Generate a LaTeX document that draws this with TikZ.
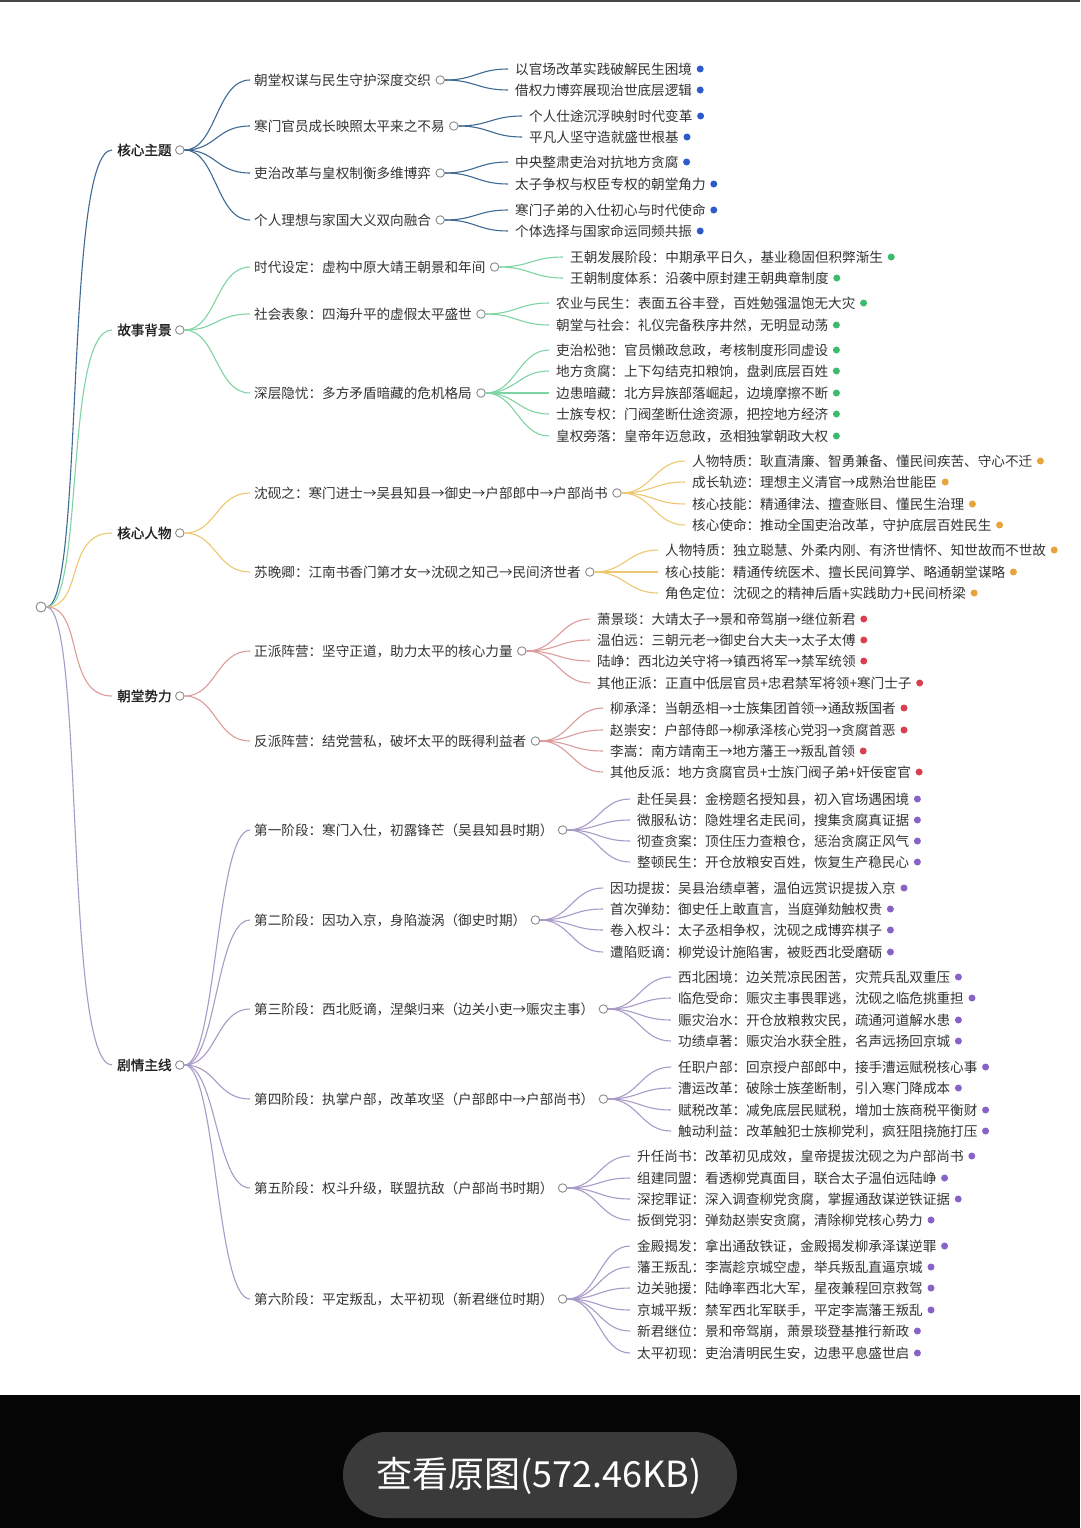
\documentclass[tikz,border=0pt]{standalone}
\usepackage{fontspec}
\setmainfont{Noto Sans CJK SC}
\newfontfamily\cjkbold{Noto Sans CJK SC}[FakeBold=1.3]
\usetikzlibrary{calc}
\definecolor{txt}{HTML}{333333}
\definecolor{txtb}{HTML}{222222}
\definecolor{hubc}{HTML}{8A8A8A}
\definecolor{blL}{HTML}{3F6A93}
\definecolor{blD}{HTML}{2C5CCB}
\definecolor{grL}{HTML}{7FD4A4}
\definecolor{grD}{HTML}{3DBB6D}
\definecolor{yeL}{HTML}{EDC870}
\definecolor{yeD}{HTML}{EAA23A}
\definecolor{rdL}{HTML}{DC9C9C}
\definecolor{rdD}{HTML}{D8404F}
\definecolor{puL}{HTML}{A99BC8}
\definecolor{puD}{HTML}{8763C8}
\definecolor{barbg}{HTML}{050505}
\definecolor{pillbg}{HTML}{3A3A3A}
\tikzset{
  lone/.style={anchor=west,inner sep=0pt,text=txtb,font=\cjkbold\fontsize{13.6}{16}\selectfont},
  ltwo/.style={anchor=west,inner sep=0pt,text=txt,font=\fontsize{13.6}{16}\selectfont},
  lthree/.style={anchor=west,inner sep=0pt,text=txt,font=\fontsize{13.6}{16}\selectfont},
  hub/.style={circle,draw=hubc,fill=white,line width=0.9pt,minimum size=8.5pt,inner sep=0pt},
  dotmark/.style={circle,minimum size=7pt,inner sep=0pt,draw=none},
  link/.style={line width=1.1pt}
}
\newcommand{\mmtop}[4]{%
  \node[lone] (#1) at (117,#2) {#3};
  \node[hub] (#1h) at ([xshift=8pt]#1.east) {};
  \draw[link,#4] (root.east) .. controls +(38,0) and +(-48,0) .. ([xshift=-5pt]#1.west);
}
\newcommand{\mmmid}[5]{%
  \node[ltwo] (#1) at (254,#2) {#3};
  \node[hub] (#1h) at ([xshift=9pt]#1.east) {};
  \draw[link,#4] (#5h.east) .. controls +(32,0) and +(-34,0) .. ([xshift=-4pt]#1.west);
}
\newcommand{\mmleaf}[7]{%
  \node[lthree] (#1) at (#2,#3) {#4};
  \node[dotmark,fill=#6] (#1d) at ([xshift=8pt]#1.east) {};
  \draw[link,#5] (#7h.east) .. controls +(30,0) and +(-30,0) .. ([xshift=-7pt]#1.west);
}
\begin{document}
\begin{tikzpicture}[x=1pt,y=-1pt]
\useasboundingbox (0,0) rectangle (1080,1528);
\fill[white] (0,0) rectangle (1080,1528);
\fill[gray!55!black] (0,0) rectangle (1080,2);
% bottom bar
\fill[barbg] (0,1395) rectangle (1080,1528);
\fill[pillbg,rounded corners=43pt] (343,1432) rectangle (737,1518);
\node[text=white,font=\fontsize{36}{42}\selectfont,inner sep=0pt] (viewbtn) at (539,1476) {查看原图(572.46KB)};
% root
\node[hub,minimum size=10pt] (root) at (41,607) {};
% level 1
\mmtop{k1}{150}{核心主题}{blL}
\mmtop{k2}{330}{故事背景}{grL}
\mmtop{k3}{533}{核心人物}{yeL}
\mmtop{k4}{696}{朝堂势力}{rdL}
\mmtop{k5}{1065}{剧情主线}{puL}
% ---- 核心主题
\mmmid{a1}{80}{朝堂权谋与民生守护深度交织}{blL}{k1}
\mmmid{a2}{126}{寒门官员成长映照太平来之不易}{blL}{k1}
\mmmid{a3}{173}{吏治改革与皇权制衡多维博弈}{blL}{k1}
\mmmid{a4}{220}{个人理想与家国大义双向融合}{blL}{k1}
\mmleaf{a11}{515}{69}{以官场改革实践破解民生困境}{blL}{blD}{a1}
\mmleaf{a12}{515}{90}{借权力博弈展现治世底层逻辑}{blL}{blD}{a1}
\mmleaf{a21}{529}{116}{个人仕途沉浮映射时代变革}{blL}{blD}{a2}
\mmleaf{a22}{529}{137}{平凡人坚守造就盛世根基}{blL}{blD}{a2}
\mmleaf{a31}{515}{162}{中央整肃吏治对抗地方贪腐}{blL}{blD}{a3}
\mmleaf{a32}{515}{184}{太子争权与权臣专权的朝堂角力}{blL}{blD}{a3}
\mmleaf{a41}{515}{210}{寒门子弟的入仕初心与时代使命}{blL}{blD}{a4}
\mmleaf{a42}{515}{231}{个体选择与国家命运同频共振}{blL}{blD}{a4}
% ---- 故事背景
\mmmid{b1}{267}{时代设定：虚构中原大靖王朝景和年间}{grL}{k2}
\mmmid{b2}{314}{社会表象：四海升平的虚假太平盛世}{grL}{k2}
\mmmid{b3}{393}{深层隐忧：多方矛盾暗藏的危机格局}{grL}{k2}
\mmleaf{b11}{570}{257}{王朝发展阶段：中期承平日久，基业稳固但积弊渐生}{grL}{grD}{b1}
\mmleaf{b12}{570}{278}{王朝制度体系：沿袭中原封建王朝典章制度}{grL}{grD}{b1}
\mmleaf{b21}{556}{303}{农业与民生：表面五谷丰登，百姓勉强温饱无大灾}{grL}{grD}{b2}
\mmleaf{b22}{556}{325}{朝堂与社会：礼仪完备秩序井然，无明显动荡}{grL}{grD}{b2}
\mmleaf{b31}{556}{350}{吏治松弛：官员懒政怠政，考核制度形同虚设}{grL}{grD}{b3}
\mmleaf{b32}{556}{371}{地方贪腐：上下勾结克扣粮饷，盘剥底层百姓}{grL}{grD}{b3}
\mmleaf{b33}{556}{393}{边患暗藏：北方异族部落崛起，边境摩擦不断}{grL}{grD}{b3}
\mmleaf{b34}{556}{414}{士族专权：门阀垄断仕途资源，把控地方经济}{grL}{grD}{b3}
\mmleaf{b35}{556}{436}{皇权旁落：皇帝年迈怠政，丞相独掌朝政大权}{grL}{grD}{b3}
% ---- 核心人物
\mmmid{c1}{493}{沈砚之：寒门进士→吴县知县→御史→户部郎中→户部尚书}{yeL}{k3}
\mmmid{c2}{572}{苏晚卿：江南书香门第才女→沈砚之知己→民间济世者}{yeL}{k3}
\mmleaf{c11}{692}{461}{人物特质：耿直清廉、智勇兼备、懂民间疾苦、守心不迁}{yeL}{yeD}{c1}
\mmleaf{c12}{692}{482}{成长轨迹：理想主义清官→成熟治世能臣}{yeL}{yeD}{c1}
\mmleaf{c13}{692}{504}{核心技能：精通律法、擅查账目、懂民生治理}{yeL}{yeD}{c1}
\mmleaf{c14}{692}{525}{核心使命：推动全国吏治改革，守护底层百姓民生}{yeL}{yeD}{c1}
\mmleaf{c21}{665}{550}{人物特质：独立聪慧、外柔内刚、有济世情怀、知世故而不世故}{yeL}{yeD}{c2}
\mmleaf{c22}{665}{572}{核心技能：精通传统医术、擅长民间算学、略通朝堂谋略}{yeL}{yeD}{c2}
\mmleaf{c23}{665}{593}{角色定位：沈砚之的精神后盾+实践助力+民间桥梁}{yeL}{yeD}{c2}
% ---- 朝堂势力
\mmmid{d1}{651}{正派阵营：坚守正道，助力太平的核心力量}{rdL}{k4}
\mmmid{d2}{741}{反派阵营：结党营私，破坏太平的既得利益者}{rdL}{k4}
\mmleaf{d11}{597}{619}{萧景琰：大靖太子→景和帝驾崩→继位新君}{rdL}{rdD}{d1}
\mmleaf{d12}{597}{640}{温伯远：三朝元老→御史台大夫→太子太傅}{rdL}{rdD}{d1}
\mmleaf{d13}{597}{661}{陆峥：西北边关守将→镇西将军→禁军统领}{rdL}{rdD}{d1}
\mmleaf{d14}{597}{683}{其他正派：正直中低层官员+忠君禁军将领+寒门士子}{rdL}{rdD}{d1}
\mmleaf{d21}{610}{708}{柳承泽：当朝丞相→士族集团首领→通敌叛国者}{rdL}{rdD}{d2}
\mmleaf{d22}{610}{730}{赵崇安：户部侍郎→柳承泽核心党羽→贪腐首恶}{rdL}{rdD}{d2}
\mmleaf{d23}{610}{751}{李嵩：南方靖南王→地方藩王→叛乱首领}{rdL}{rdD}{d2}
\mmleaf{d24}{610}{772}{其他反派：地方贪腐官员+士族门阀子弟+奸佞宦官}{rdL}{rdD}{d2}
% ---- 剧情主线
\mmmid{e1}{830}{第一阶段：寒门入仕，初露锋芒（吴县知县时期）}{puL}{k5}
\mmmid{e2}{920}{第二阶段：因功入京，身陷漩涡（御史时期）}{puL}{k5}
\mmmid{e3}{1009}{第三阶段：西北贬谪，涅槃归来（边关小吏→赈灾主事）}{puL}{k5}
\mmmid{e4}{1099}{第四阶段：执掌户部，改革攻坚（户部郎中→户部尚书）}{puL}{k5}
\mmmid{e5}{1188}{第五阶段：权斗升级，联盟抗敌（户部尚书时期）}{puL}{k5}
\mmmid{e6}{1299}{第六阶段：平定叛乱，太平初现（新君继位时期）}{puL}{k5}
\mmleaf{e11}{637}{799}{赴任吴县：金榜题名授知县，初入官场遇困境}{puL}{puD}{e1}
\mmleaf{e12}{637}{820}{微服私访：隐姓埋名走民间，搜集贪腐真证据}{puL}{puD}{e1}
\mmleaf{e13}{637}{841}{彻查贪案：顶住压力查粮仓，惩治贪腐正风气}{puL}{puD}{e1}
\mmleaf{e14}{637}{862}{整顿民生：开仓放粮安百姓，恢复生产稳民心}{puL}{puD}{e1}
\mmleaf{e21}{610}{888}{因功提拔：吴县治绩卓著，温伯远赏识提拔入京}{puL}{puD}{e2}
\mmleaf{e22}{610}{909}{首次弹劾：御史任上敢直言，当庭弹劾触权贵}{puL}{puD}{e2}
\mmleaf{e23}{610}{930}{卷入权斗：太子丞相争权，沈砚之成博弈棋子}{puL}{puD}{e2}
\mmleaf{e24}{610}{952}{遭陷贬谪：柳党设计施陷害，被贬西北受磨砺}{puL}{puD}{e2}
\mmleaf{e31}{678}{977}{西北困境：边关荒凉民困苦，灾荒兵乱双重压}{puL}{puD}{e3}
\mmleaf{e32}{678}{998}{临危受命：赈灾主事畏罪逃，沈砚之临危挑重担}{puL}{puD}{e3}
\mmleaf{e33}{678}{1020}{赈灾治水：开仓放粮救灾民，疏通河道解水患}{puL}{puD}{e3}
\mmleaf{e34}{678}{1041}{功绩卓著：赈灾治水获全胜，名声远扬回京城}{puL}{puD}{e3}
\mmleaf{e41}{678}{1067}{任职户部：回京授户部郎中，接手漕运赋税核心事}{puL}{puD}{e4}
\mmleaf{e42}{678}{1088}{漕运改革：破除士族垄断制，引入寒门降成本}{puL}{puD}{e4}
\mmleaf{e43}{678}{1110}{赋税改革：减免底层民赋税，增加士族商税平衡财}{puL}{puD}{e4}
\mmleaf{e44}{678}{1131}{触动利益：改革触犯士族柳党利，疯狂阻挠施打压}{puL}{puD}{e4}
\mmleaf{e51}{637}{1156}{升任尚书：改革初见成效，皇帝提拔沈砚之为户部尚书}{puL}{puD}{e5}
\mmleaf{e52}{637}{1178}{组建同盟：看透柳党真面目，联合太子温伯远陆峥}{puL}{puD}{e5}
\mmleaf{e53}{637}{1199}{深挖罪证：深入调查柳党贪腐，掌握通敌谋逆铁证据}{puL}{puD}{e5}
\mmleaf{e54}{637}{1220}{扳倒党羽：弹劾赵崇安贪腐，清除柳党核心势力}{puL}{puD}{e5}
\mmleaf{e61}{637}{1246}{金殿揭发：拿出通敌铁证，金殿揭发柳承泽谋逆罪}{puL}{puD}{e6}
\mmleaf{e62}{637}{1267}{藩王叛乱：李嵩趁京城空虚，举兵叛乱直逼京城}{puL}{puD}{e6}
\mmleaf{e63}{637}{1288}{边关驰援：陆峥率西北大军，星夜兼程回京救驾}{puL}{puD}{e6}
\mmleaf{e64}{637}{1310}{京城平叛：禁军西北军联手，平定李嵩藩王叛乱}{puL}{puD}{e6}
\mmleaf{e65}{637}{1331}{新君继位：景和帝驾崩，萧景琰登基推行新政}{puL}{puD}{e6}
\mmleaf{e66}{637}{1353}{太平初现：吏治清明民生安，边患平息盛世启}{puL}{puD}{e6}
\end{tikzpicture}
\end{document}
